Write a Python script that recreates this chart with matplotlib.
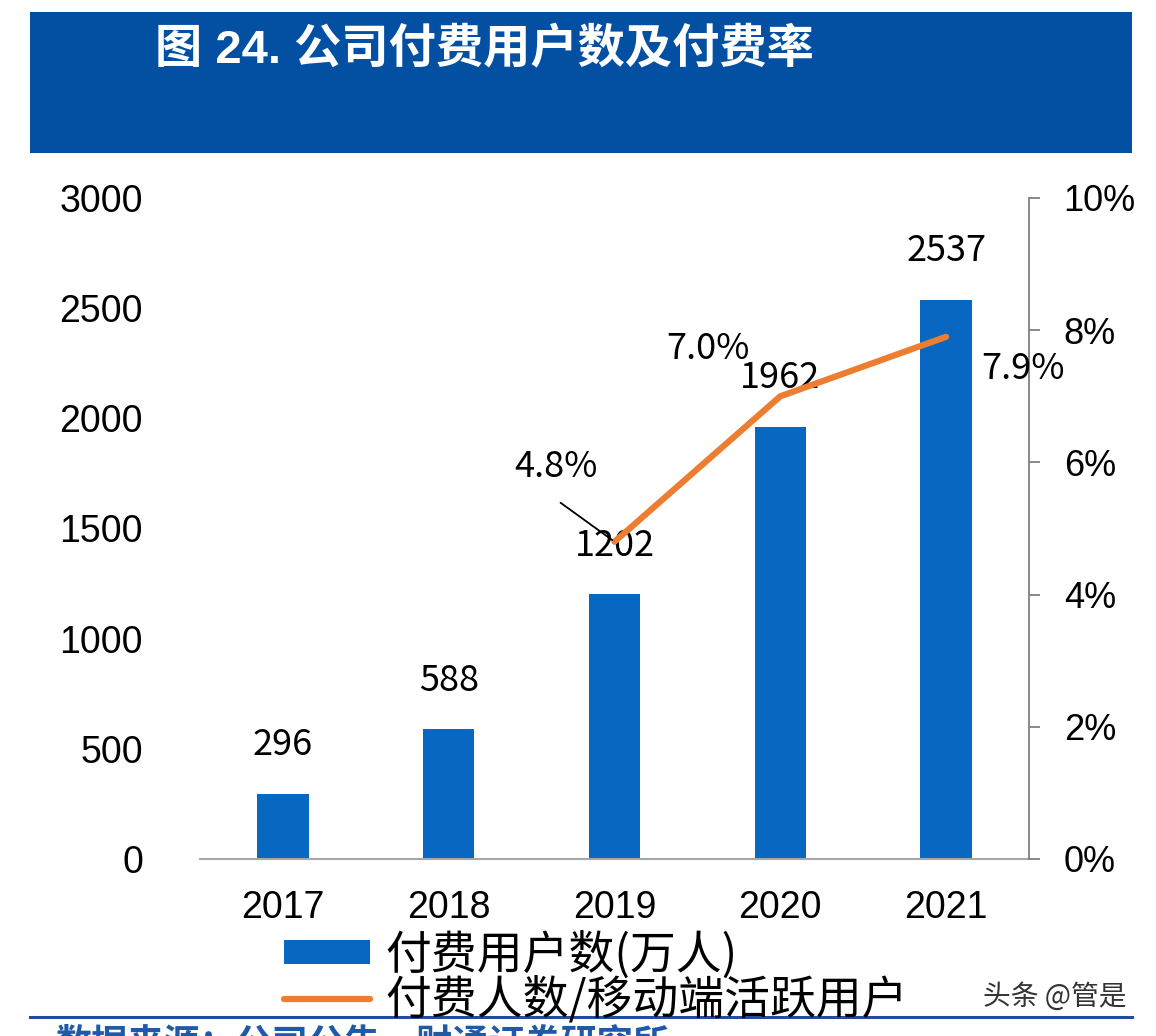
import matplotlib

matplotlib.use("Agg")
import matplotlib.pyplot as plt
from matplotlib.patches import Rectangle
from matplotlib.lines import Line2D

years = ["2017", "2018", "2019", "2020", "2021"]
paid_users = [296, 588, 1202, 1962, 2537]  # 万人
rate_years = ["2019", "2020", "2021"]
paid_rate = [4.8, 7.0, 7.9]  # %
rate_labels = ["4.8%", "7.0%", "7.9%"]
left_ticks = [0, 500, 1000, 1500, 2000, 2500, 3000]
right_ticks = [0, 2, 4, 6, 8, 10]

BLUE_BAR = "#0867C0"
BANNER = "#0350A3"
ORANGE = "#ED7D31"
CJK = ["Noto Sans CJK SC", "DejaVu Sans"]
NUM = ["Liberation Sans", "Noto Sans CJK SC"]

W, H = 1156, 1036
fig = plt.figure(figsize=(W / 100, H / 100), dpi=100)


def fx(px):
    return px / W


def fy(py):
    return 1 - py / H


# title banner
fig.patches.append(Rectangle((fx(30), fy(153)), fx(1102), 141 / H, transform=fig.transFigure,
                             facecolor=BANNER, edgecolor="none", zorder=0))
fig.text(fx(155), fy(50), "图 24. 公司付费用户数及付费率", color="white", fontsize=34,
         fontweight="bold", family=NUM, ha="left", va="center")

ax = fig.add_axes([fx(200), fy(859), fx(829), 661 / H])
x = list(range(len(years)))
bars = ax.bar(x, paid_users, width=0.31, color=BLUE_BAR, zorder=2)
ax.set_xlim(-0.5, len(years) - 0.5)
ax.set_ylim(0, 3000)
ax.set_yticks(left_ticks)
ax.set_yticklabels([str(v) for v in left_ticks], family=NUM, fontsize=27)
ax.set_xticks(x)
ax.set_xticklabels(years, family=NUM, fontsize=27)
ax.tick_params(axis="y", length=0, pad=41)
ax.tick_params(axis="x", length=0, pad=22)
for side in ["top", "left", "right"]:
    ax.spines[side].set_visible(False)
ax.spines["bottom"].set_color("#A6A6A6")
ax.spines["bottom"].set_linewidth(1.5)

for xi, v in zip(x, paid_users):
    ax.annotate(str(v), xy=(xi, v), xytext=(0, 35), textcoords="offset points",
                ha="center", va="center", fontsize=26, family=CJK, zorder=5)

ax2 = ax.twinx()
ax2.set_ylim(0, 10)
ax2.set_yticks(right_ticks)
ax2.set_yticklabels([f"{v}%" for v in right_ticks], family=NUM, fontsize=26)
ax2.tick_params(axis="y", direction="out", length=8, width=1.3, color="#808080", pad=17)
for side in ["top", "left", "bottom"]:
    ax2.spines[side].set_visible(False)
ax2.spines["right"].set_color("#808080")
ax2.spines["right"].set_linewidth(1.3)

rx = [years.index(y) for y in rate_years]
line, = ax2.plot(rx, paid_rate, color=ORANGE, lw=4.5, solid_capstyle="round",
                 solid_joinstyle="round", zorder=3)

# percentage labels (offsets in pixels from the data point)
label_offsets = [(-59, 75), (-72, 47), (77, -32)]
for xi, v, lab, (dx, dy) in zip(rx, paid_rate, rate_labels, label_offsets):
    ax2.annotate(lab, xy=(xi, v), xytext=(dx, dy), textcoords="offset pixels",
                 ha="center", va="center", fontsize=26, family=CJK)
# leader line for the first label
ax2.annotate("", xy=(rx[0], paid_rate[0]), xytext=(-54, 39), textcoords="offset pixels",
             arrowprops=dict(arrowstyle="-", color="black", lw=1.3, shrinkA=0, shrinkB=2))

# legend
leg = fig.legend([bars, line], ["付费用户数(万人)", "付费人数/移动端活跃用户"],
                 loc="upper left", bbox_to_anchor=(fx(284), fy(931)), frameon=False,
                 prop={"family": CJK, "size": 33}, handlelength=1.88, handleheight=0.42,
                 handletextpad=0.33, labelspacing=-0.08, borderpad=0, borderaxespad=0)

# watermark
fig.text(fx(983), fy(997), "头条 @管是", fontsize=20, family=CJK, color="#333333",
         ha="left", va="center")

# bottom rule and cut source line
fig.add_artist(Line2D([fx(30), fx(1132)], [fy(1017), fy(1017)], transform=fig.transFigure,
                      color="#1F4E9A", lw=2.2))
fig.text(fx(55), fy(1026), "数据来源：公司公告，财通证券研究所", fontsize=26, family=CJK,
         fontweight="bold", color="#1F5AA6", ha="left", va="top")

fig.savefig("out.png", dpi=100)
